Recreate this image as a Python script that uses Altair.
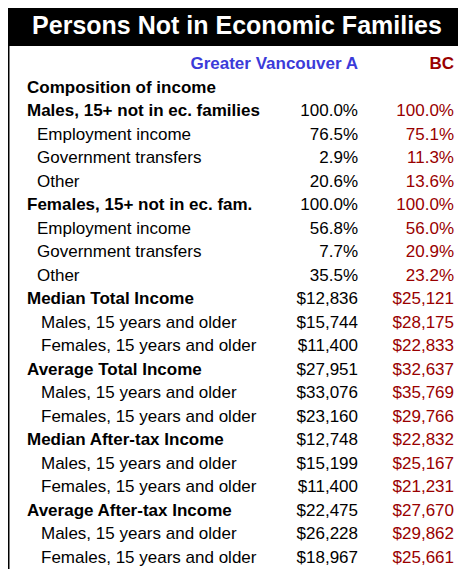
import altair as alt
import pandas as pd

title_text = "Persons Not in Economic Families"
col_headers = ["Greater Vancouver A", "BC"]

labels = [
    "Composition of income",
    "Males, 15+ not in ec. families",
    "Employment income",
    "Government transfers",
    "Other",
    "Females, 15+ not in ec. fam.",
    "Employment income",
    "Government transfers",
    "Other",
    "Median Total Income",
    "Males, 15 years and older",
    "Females, 15 years and older",
    "Average Total Income",
    "Males, 15 years and older",
    "Females, 15 years and older",
    "Median After-tax Income",
    "Males, 15 years and older",
    "Females, 15 years and older",
    "Average After-tax Income",
    "Males, 15 years and older",
    "Females, 15 years and older",
]
levels = [0, 0, 1, 1, 1, 0, 1, 1, 1, 0, 2, 2, 0, 2, 2, 0, 2, 2, 0, 2, 2]
gv_values = ["", "100.0%", "76.5%", "2.9%", "20.6%", "100.0%", "56.8%", "7.7%", "35.5%",
             "$12,836", "$15,744", "$11,400", "$27,951", "$33,076", "$23,160",
             "$12,748", "$15,199", "$11,400", "$22,475", "$26,228", "$18,967"]
bc_values = ["", "100.0%", "75.1%", "11.3%", "13.6%", "100.0%", "56.0%", "20.9%", "23.2%",
             "$25,121", "$28,175", "$22,833", "$32,637", "$35,769", "$29,766",
             "$22,832", "$25,167", "$21,231", "$27,670", "$29,862", "$25,661"]

df = pd.DataFrame({
    "row": list(range(len(labels))),
    "label": labels,
    "level": levels,
    "gv": gv_values,
    "bc": bc_values,
})
hdr = pd.DataFrame({"row": [-1], "gv": [col_headers[0]], "bc": [col_headers[1]]})

FONT = "Liberation Sans"
FS = 17
W, H = 450, 561
yscale = alt.Scale(domain=[-1, 20], range=[56, 550], zero=False, nice=False)
Y = alt.Y("row:Q", scale=yscale, axis=None)

one = alt.Data(values=[{"k": 1}])

bar = alt.Chart(one).mark_rect(color="black").encode(
    x=alt.value(0), x2=alt.value(W), y=alt.value(0), y2=alt.value(38))
title = alt.Chart(one).mark_text(
    text=title_text, font=FONT, fontSize=25, fontWeight="bold", color="white",
    align="center", baseline="middle").encode(x=alt.value(229), y=alt.value(18))
border = alt.Chart(one).mark_rule(color="black", strokeWidth=2).encode(
    x=alt.value(0.5), y=alt.value(38), y2=alt.value(H))

base = alt.Chart(df)

def lab(level, xpos, bold):
    return base.transform_filter(alt.datum.level == level).mark_text(
        font=FONT, fontSize=FS, fontWeight="bold" if bold else "normal",
        color="black", align="left", baseline="middle").encode(
        x=alt.value(xpos), y=Y, text="label:N")

l0 = lab(0, 19, True)
l1 = lab(1, 29, False)
l2 = lab(2, 33, False)

gv = base.mark_text(font=FONT, fontSize=FS, color="black", align="right",
                    baseline="middle").encode(x=alt.value(350), y=Y, text="gv:N")
bc = base.mark_text(font=FONT, fontSize=FS, color="#990000", align="right",
                    baseline="middle").encode(x=alt.value(446), y=Y, text="bc:N")

h_gv = alt.Chart(hdr).mark_text(font=FONT, fontSize=FS, fontWeight="bold", color="#3b3bd9",
                                align="right", baseline="middle").encode(
    x=alt.value(350), y=Y, text="gv:N")
h_bc = alt.Chart(hdr).mark_text(font=FONT, fontSize=FS, fontWeight="bold", color="#990000",
                                align="right", baseline="middle").encode(
    x=alt.value(446), y=Y, text="bc:N")

chart = alt.layer(bar, title, border, l0, l1, l2, gv, bc, h_gv, h_bc).properties(
    width=W, height=H, padding=0,
    autosize=alt.AutoSizeParams(type="none"),
).configure_view(stroke=None).configure(background="white")

chart.save("out.html", embed_options={"renderer": "svg", "actions": False})
